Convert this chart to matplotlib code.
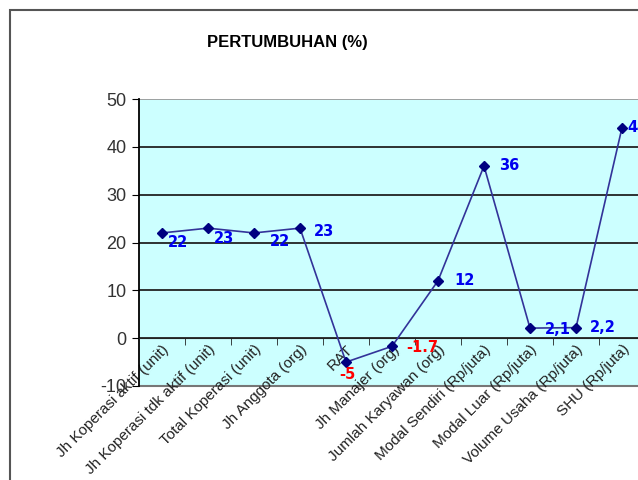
import numpy as np
import matplotlib
matplotlib.use("Agg")
from matplotlib import pyplot as plt
from matplotlib.patches import Rectangle

plt.rcParams['font.family'] = ['Liberation Sans', 'DejaVu Sans']
plt.rcParams['axes.unicode_minus'] = False

categories = ["Jh Koperasi aktif (unit)", "Jh Koperasi tdk aktif (unit)",
              "Total Koperasi (unit)", "Jh Anggota (org)", "RAT",
              "Jh Manajer (org)", "Jumlah Karyawan (org)",
              "Modal Sendiri (Rp/juta)", "Modal Luar (Rp/juta)",
              "Volume Usaha (Rp/juta)", "SHU (Rp/juta)"]
values = [22, 23, 22, 23, -5, -1.7, 12, 36, 2.1, 2.2, 44]
value_labels = ["22", "23", "22", "23", "-5", "-1.7", "12", "36", "2,1", "2,2", "44"]

# label offsets in pixels (dx, dy), dy positive = down
label_offsets = [(6, 10), (6, 10), (16, 9), (14, 3), (-7, 12), (14, 1),
                 (16, 0), (15, 0), (15, 1), (14, 0), (5, 0)]

fig = plt.figure(figsize=(6.38, 4.8), dpi=100)

# outer chart frame (cropped on the right and bottom)
fig.patches.append(Rectangle((10 / 638, -0.1), 2, 470 / 480 + 0.1,
                             transform=fig.transFigure, fill=False,
                             edgecolor="#555555", linewidth=1.5))

ax = fig.add_axes([139 / 638, 94 / 480, 506 / 638, 287 / 480])
ax.set_facecolor("#ccffff")

x = np.arange(len(categories))
ax.set_xlim(-0.5, len(categories) - 0.5)
ax.set_ylim(-10, 50)

for yv in range(0, 50, 10):
    ax.axhline(yv, color="#222222", linewidth=1.3, zorder=1)
ax.axhline(50, color="#999999", linewidth=1.3, zorder=1)
ax.axhline(-10, color="#777777", linewidth=1.5, zorder=1, clip_on=False)

ax.plot(x, values, color="#333399", linewidth=1.2, marker="D",
        markersize=5, markerfacecolor="#000080", markeredgecolor="#000080",
        zorder=3)

for i, (v, lab) in enumerate(zip(values, value_labels)):
    dx, dy = label_offsets[i]
    col = "#ff0000" if v < 0 else "#0000ee"
    ax.annotate(lab, (x[i], v), xytext=(dx * 0.72, -dy * 0.72),
                textcoords="offset points", ha="left", va="center",
                fontsize=10.5, fontweight="bold", color=col,
                family="DejaVu Sans", zorder=4)

ax.spines['bottom'].set_position(('data', 0))
ax.spines['bottom'].set_color("#222222")
ax.spines['left'].set_color("#000000")
ax.spines['left'].set_linewidth(1.3)
ax.spines['top'].set_visible(False)
ax.spines['right'].set_visible(False)

ax.set_xticks(x)
ax.set_xticklabels(categories, rotation=45, ha="right", va="top",
                   rotation_mode="anchor", fontsize=11, color="#222222")
ax.set_xticks(np.arange(0.5, len(categories) - 0.5, 1), minor=True)
ax.tick_params(axis="x", which="major", length=0, pad=3)
ax.tick_params(axis="x", which="minor", length=5, direction="out",
               color="#222222")

ax.set_yticks(range(-10, 51, 10))
ax.tick_params(axis="y", length=5, direction="out", labelsize=13,
               color="#000000", labelcolor="#333333", pad=4)

fig.text(287 / 638, 1 - 42 / 480, "PERTUMBUHAN (%)", ha="center",
         va="center", fontsize=12, fontweight="bold")

fig.savefig("out.png", dpi=100)
